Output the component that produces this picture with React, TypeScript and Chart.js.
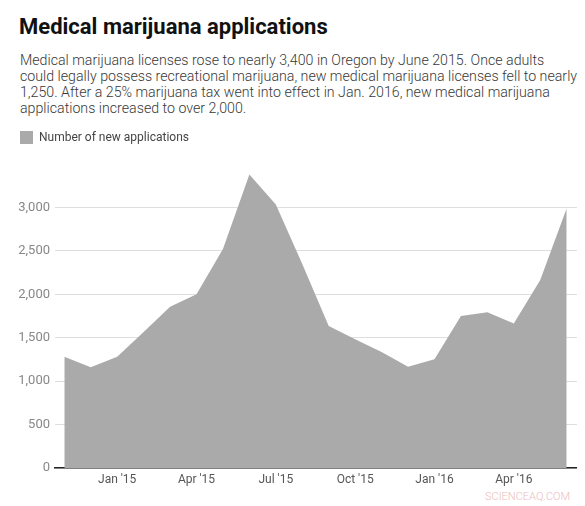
import React, { useEffect, useRef } from "react";
import { Chart, registerables } from "chart.js";

Chart.register(...registerables);

const months = [
  "Nov 2014", "Dec 2014", "Jan 2015", "Feb 2015", "Mar 2015", "Apr 2015", "May 2015",
  "Jun 2015", "Jul 2015", "Aug 2015", "Sep 2015", "Oct 2015", "Nov 2015", "Dec 2015",
  "Jan 2016", "Feb 2016", "Mar 2016", "Apr 2016", "May 2016", "Jun 2016",
];
const applications = [
  1281, 1160, 1281, 1565, 1856, 2000, 2520, 3380, 3035, 2350, 1635, 1483, 1335, 1165,
  1252, 1750, 1792, 1665, 2165, 2990,
];
const xTickIndex = [2, 5, 8, 11, 14, 17];
const xTickLabels = ["Jan '15", "Apr '15", "Jul '15", "Oct '15", "Jan '16", "Apr '16"];
const yTicks = [0, 500, 1000, 1500, 2000, 2500, 3000];

const FONT = "Roboto, 'Noto Sans', sans-serif";

export default function App() {
  const ref = useRef<HTMLCanvasElement | null>(null);

  useEffect(() => {
    document.body.style.margin = "0";
    if (!ref.current) return;
    const legendSpacer = {
      id: "legendSpacer",
      beforeLayout(chart: any) {
        const lg = chart.legend;
        if (lg && !lg._patched) {
          const orig = lg.fit.bind(lg);
          lg.fit = function () {
            orig();
            this.height += 10;
          };
          lg._patched = true;
        }
      },
    };
    const chart = new Chart(ref.current, {
      type: "line",
      data: {
        datasets: [
          {
            label: "Number of new applications",
            data: applications.map((v, i) => ({ x: i, y: v })),
            fill: "origin",
            backgroundColor: "#aaaaaa",
            borderColor: "#aaaaaa",
            borderWidth: 0,
            pointRadius: 0,
            tension: 0,
          },
        ],
      },
      options: {
        responsive: false,
        animation: false,
        locale: "en-US",
        layout: { padding: 0 },
        plugins: {
          legend: {
            display: true,
            position: "top",
            align: "start",
            labels: {
              boxWidth: 13,
              boxHeight: 13,
              padding: 10,
              color: "#444",
              font: { family: FONT, size: 12 },
            },
          },
          tooltip: { enabled: false },
        },
        scales: {
          x: {
            type: "linear",
            min: -0.352,
            max: 19.39,
            grid: { display: false, drawTicks: false, tickLength: 0 },
            border: { display: true, color: "#222", width: 1.5 },
            afterBuildTicks: (scale: any) => {
              scale.ticks = xTickIndex.map((v) => ({ value: v }));
            },
            afterFit: (scale: any) => {
              scale.height = 22;
            },
            ticks: {
              autoSkip: false,
              maxRotation: 0,
              padding: 5,
              color: "#555",
              font: { family: FONT, size: 12 },
              callback: (value: any) => {
                const k = xTickIndex.indexOf(Number(value));
                return k >= 0 ? xTickLabels[k] : "";
              },
            },
          },
          y: {
            min: 0,
            max: 3500,
            z: 1,
            grid: { color: "rgba(0,0,0,0.13)", drawTicks: false, lineWidth: 1 },
            border: { display: false },
            afterBuildTicks: (scale: any) => {
              scale.ticks = yTicks.map((v) => ({ value: v }));
            },
            afterFit: (scale: any) => {
              scale.width = 45;
            },
            ticks: {
              padding: 5,
              color: "#888",
              font: { family: FONT, size: 13 },
            },
          },
        },
      },
      plugins: [legendSpacer],
    });
    return () => chart.destroy();
  }, []);

  return (
    <div
      style={{
        position: "relative",
        width: 585,
        height: 506,
        overflow: "hidden",
        fontFamily: FONT,
        background: "#fff",
      }}
    >
      <div
        style={{
          position: "absolute",
          left: 19,
          top: 16,
          fontSize: 22,
          lineHeight: "22px",
          fontWeight: 700,
          color: "#111",
          whiteSpace: "nowrap",
        }}
      >
        Medical marijuana applications
      </div>
      <div
        style={{
          position: "absolute",
          left: 20,
          top: 52,
          fontSize: 14.2,
          lineHeight: "16px",
          fontWeight: 300,
          color: "#383838",
          whiteSpace: "nowrap",
        }}
      >
        <div>Medical marijuana licenses rose to nearly 3,400 in Oregon by June 2015. Once adults</div>
        <div>could legally possess recreational marijuana, new medical marijuana licenses fell to nearly</div>
        <div>1,250. After a 25% marijuana tax went into effect in Jan. 2016, new medical marijuana</div>
        <div>applications increased to over 2,000.</div>
      </div>
      <canvas
        ref={ref}
        width={567}
        height={369}
        style={{ position: "absolute", left: 10, top: 121, width: 567, height: 369 }}
      />
      <div
        style={{
          position: "absolute",
          left: 485,
          top: 490,
          fontSize: 11,
          lineHeight: "14px",
          fontWeight: 300,
          color: "#eebcbc",
          whiteSpace: "nowrap",
        }}
      >
        SCIENCEAQ.COM
      </div>
    </div>
  );
}
